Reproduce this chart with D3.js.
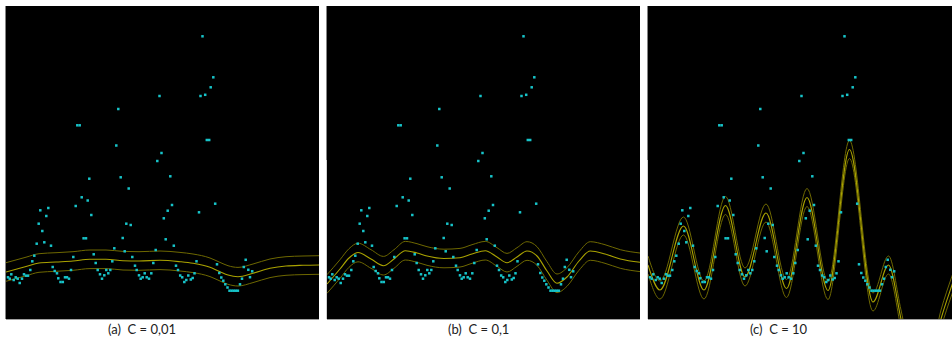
<!DOCTYPE html>
<html>
<head>
<meta charset="utf-8">
<script src="https://cdn.jsdelivr.net/npm/d3@7"></script>
<style>
  body { margin: 0; background: #fff; }
  svg { display: block; }
</style>
</head>
<body>
<svg width="952" height="338"></svg>
<script>
// observations (same in the three panels)
const pointT = [2, 3.7, 5.3, 7.7, 9.7, 11.7, 13.7, 16, 18, 20, 22, 24.3, 26.3, 28.3, 30.7, 32.7, 34.3, 36.3, 38.3, 40.3,
  42.3, 45, 46.7, 48.7, 51, 52.3, 54.5, 56.8, 59, 61, 63, 65, 67.3, 69.7, 71.3, 73.7, 75.7, 77.6, 80, 81.7,
  83.3, 85.3, 87.7, 89.7, 91.7, 94, 96, 98.3, 100.3, 102.3, 104.3, 106.3, 108.3, 110.3, 112.3, 114.7, 116.7, 118.7, 120.3, 122.7,
  124.7, 126.3, 129, 130.7, 133, 134.7, 136.7, 138.7, 140.7, 143, 145.3, 147.3, 149.7, 151.3, 153.5, 155.5, 157.8, 159.7, 161.7, 164.3,
  166, 167.8, 170, 172, 174.2, 176.2, 178.3, 180.3, 182.3, 184.8, 186.7, 188.5, 190.5, 193, 194.5, 196.5, 199.2, 200.8, 203.2, 204.7,
  207.3, 209.2, 211, 213.3, 215.3, 217.3, 219.3, 221.5, 223.5, 225.6, 227.7, 229.8, 231.9, 234, 236, 237.8, 239.7, 242.3, 244, 246.2];
const pointV = [41.7, 40.3, 44.7, 39, 41.7, 40.3, 36, 40.3, 44.7, 43.3, 43.3, 49, 57.7, 63.3, 75.3, 95.3, 108.7, 88, 76.7, 103,
  111, 73.3, 52, 48, 45.7, 40.7, 37, 37, 41.7, 41.7, 40.3, 49, 62, 113, 193.7, 193.7, 121.7, 80.7, 80.7, 118.5,
  140.3, 104, 64.7, 56, 49, 44.7, 40.3, 43.7, 49, 45.7, 49, 57.7, 70.7, 173.5, 210, 141.7, 81, 67.7, 95.3, 130.5,
  94, 62, 53.3, 49, 43.7, 40.3, 41.7, 45.7, 41.7, 40.3, 45.7, 56, 69, 158, 223, 166, 100.7, 79.7, 108.3, 142.7,
  114, 73.3, 53.3, 49, 43.5, 41.7, 37, 39, 43.5, 39.5, 41, 45.7, 57.7, 106.7, 223, 282.7, 224.2, 179, 179, 231.7,
  241.7, 115.3, 54.7, 46, 41.5, 38.3, 34.7, 31.5, 28.3, 28.3, 28.3, 28.3, 28.3, 34.7, 40.3, 52, 59.2, 49.2, 41.8, 47.7];

// fitted regression curves
const fitA_T = [0, 20, 33, 50, 67, 84, 100, 117, 133, 154, 174, 187, 204, 214, 222, 232, 247, 264, 280, 297, 313];
const fitA_V = [47, 52.5, 56, 57, 58, 59.7, 59.7, 58.3, 58, 58.7, 57.3, 55.7, 51.7, 47.3, 44, 42.3, 45.7, 50.7, 53, 53.7, 54];

const fitB_T = [0, 13, 22, 31, 44, 56.5, 67, 78.3, 90, 100, 117, 133, 145, 158.3, 170, 180, 190, 200, 210, 220, 230, 240, 252, 263.3, 278, 293.3, 313];
const fitB_V = [35, 50, 61, 66.5, 60, 53.3, 60, 68.3, 66, 63, 60.5, 61.3, 65, 68.3, 62, 56.3, 62, 68, 63, 48, 35.7, 42, 58, 68, 65, 60, 56.7];

const fitC_T = [0, 12, 35.5, 56, 77.5, 97, 118, 138.5, 159, 180, 201.5, 225, 240.5, 253, 273, 293, 304, 313];
const fitC_V = [54, 29, 93, 29, 113.5, 42, 106, 30.5, 121.5, 28.5, 169.5, 17, 54, 0, -91, 0, 34, 60];

const captions = ["(a)  C = 0,01", "(b)  C = 0,1", "(c)  C = 10"];
const epsilon = [9.3, 9.3, 9];

const svg = d3.select("svg");
const size = 313;
const panelX = [6, 327, 648];
const captionX = [108, 448, 750];

const x = d3.scaleLinear().domain([0, 313]).range([0, size]);
const y = d3.scaleLinear().domain([0, 313]).range([size, 0]);

const points = pointT.map((t, i) => ({t, v: pointV[i]}));
const fits = [[fitA_T, fitA_V], [fitB_T, fitB_V], [fitC_T, fitC_V]]
  .map(([ts, vs]) => ts.map((t, i) => ({t, v: vs[i]})));

function line(offset) {
  return d3.line()
    .x(d => x(d.t))
    .y(d => y(d.v + offset))
    .curve(d3.curveMonotoneX);
}

const defs = svg.append("defs");

panelX.forEach((px, i) => {
  defs.append("clipPath").attr("id", "clip" + i)
    .append("rect").attr("width", size).attr("height", size);

  const g = svg.append("g").attr("transform", `translate(${px},6)`);

  g.append("rect")
    .attr("width", size)
    .attr("height", size)
    .attr("fill", "#000");

  const inner = g.append("g").attr("clip-path", `url(#clip${i})`);
  const eps = epsilon[i];

  // epsilon tube, then the fit
  [eps, -eps].forEach(off => {
    inner.append("path")
      .datum(fits[i])
      .attr("d", line(off))
      .attr("fill", "none")
      .attr("stroke", "#6e6800")
      .attr("stroke-width", 1);
  });
  inner.append("path")
    .datum(fits[i])
    .attr("d", line(0))
    .attr("fill", "none")
    .attr("stroke", "#aaa300")
    .attr("stroke-width", 1.1);

  inner.selectAll("rect.pt")
    .data(points)
    .enter().append("rect")
    .attr("class", "pt")
    .attr("x", d => x(d.t) - 1.25)
    .attr("y", d => y(d.v) - 1.25)
    .attr("width", 2.5)
    .attr("height", 2.5)
    .attr("fill", "#17c4c9");

  // screenshot frame edges
  g.append("line")
    .attr("x1", -0.5).attr("x2", -0.5)
    .attr("y1", 0).attr("y2", i === 0 ? size : 154)
    .attr("stroke", "#858585");
  if (i > 0) {
    g.append("line")
      .attr("x1", -0.5).attr("x2", -0.5)
      .attr("y1", 154).attr("y2", size)
      .attr("stroke", "#d0d0d0");
  }
  g.append("line")
    .attr("x1", 0).attr("x2", size)
    .attr("y1", size + 0.5).attr("y2", size + 0.5)
    .attr("stroke", "#a0a0a0");

  svg.append("text")
    .attr("x", captionX[i])
    .attr("y", 334)
    .attr("font-family", "Lato, 'Open Sans', sans-serif")
    .attr("font-size", 13)
    .attr("fill", "#222")
    .style("white-space", "pre")
    .text(captions[i]);
});
</script>
</body>
</html>
